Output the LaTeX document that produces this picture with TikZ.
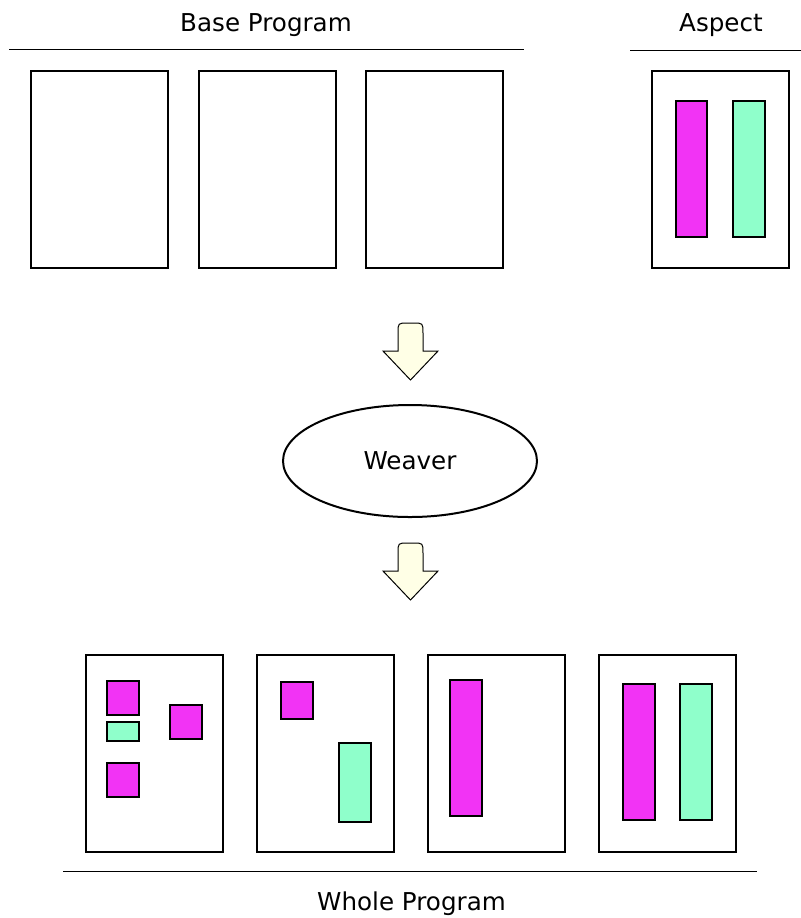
\documentclass[tikz,border=0pt]{standalone}
\usepackage{fontspec}
\setmainfont{DejaVu Sans}
\usetikzlibrary{shapes.geometric}

\definecolor{advice}{RGB}{242,51,245}
\definecolor{pointcut}{RGB}{143,255,203}
\definecolor{flowfill}{RGB}{255,255,230}

\tikzset{
    module/.style = {draw, line width=1pt, minimum width=68.5pt, minimum height=98.5pt, inner sep=0pt},
    piece/.style  = {draw, line width=0.6pt},
    flow/.style   = {draw, line width=0.5pt, fill=flowfill},
    caption/.style = {anchor=base, font=\fontsize{12.3}{14}\selectfont},
}

\begin{document}
\begin{tikzpicture}[x=0.5pt, y=-0.5pt]
    \useasboundingbox (0, 0) rectangle (801, 918);

    % headings and rules
    \node[caption] (base) at (266, 31) {Base Program};
    \node[caption] (aspect) at (721, 31) {Aspect};
    \draw[line width=0.5pt] (9, 49) -- (524, 49);
    \draw[line width=0.5pt] (630, 50) -- (801, 50);

    % base program modules
    \foreach \x [count=\i] in {30, 198, 365} {
        \node[module, anchor=north west] (base\i) at (\x, 70) {};
    }

    % aspect module
    \node[module, anchor=north west] (asp) at (651, 70) {};
    \draw[piece, fill=advice] (676, 101) rectangle (707, 237);
    \draw[piece, fill=pointcut] (733, 101) rectangle (765, 237);

    % block arrows
    \foreach \y in {323, 543} {
        \draw[flow] (383, \y+28) -- (410.5, \y+57) -- (438, \y+28) -- (423, \y+28)
            -- (423, \y+10) .. controls (423, \y) .. (413, \y) -- (408, \y)
            .. controls (398, \y) .. (398, \y+10) -- (398, \y+28) -- cycle;
    }

    \node[draw, ellipse, line width=1pt, minimum width=127pt, minimum height=56pt,
        font=\fontsize{12.3}{14}\selectfont] (weaver) at (410, 461) {Weaver};

    % woven modules
    \foreach \x [count=\i] in {85, 256, 427, 598} {
        \node[module, anchor=north west] (whole\i) at (\x, 654) {};
    }
    \draw[piece, fill=advice] (107, 681) rectangle (139, 715);
    \draw[piece, fill=pointcut] (107, 722) rectangle (139, 741);
    \draw[piece, fill=advice] (170, 705) rectangle (202, 739);
    \draw[piece, fill=advice] (107, 763) rectangle (139, 797);

    \draw[piece, fill=advice] (281, 682) rectangle (313, 719);
    \draw[piece, fill=pointcut] (339, 743) rectangle (371, 822);

    \draw[piece, fill=advice] (450, 680) rectangle (482, 816);

    \draw[piece, fill=advice] (623, 684) rectangle (655, 820);
    \draw[piece, fill=pointcut] (680, 684) rectangle (712, 820);

    \draw[line width=0.5pt] (63, 871) -- (757, 871);
    \node[caption] (whole) at (411.5, 910) {Whole Program};
\end{tikzpicture}
\end{document}
